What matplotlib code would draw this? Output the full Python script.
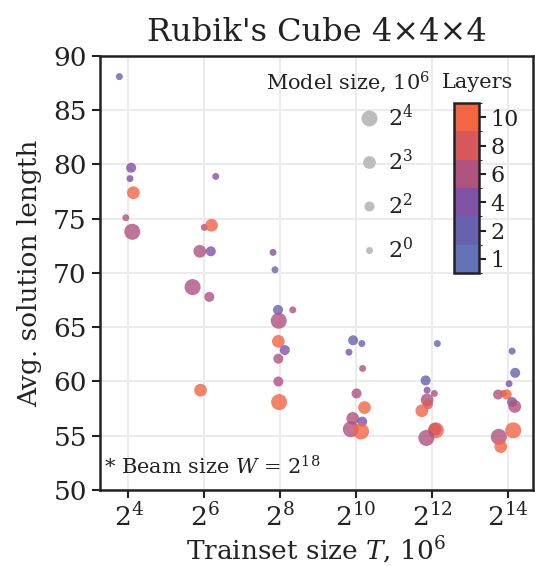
import numpy as np
import matplotlib
matplotlib.use("Agg")
import matplotlib.pyplot as plt
from matplotlib.colors import ListedColormap, BoundaryNorm
from matplotlib.cm import ScalarMappable
from matplotlib.lines import Line2D

plt.rcParams["font.family"] = "DejaVu Serif"
plt.rcParams["mathtext.fontset"] = "dejavuserif"

# ---------------------
# Data
# log2 of trainset size (with the small horizontal jitter of the original),
# average solution length, number of layers, log2 of model size
# ---------------------
train_log2 = [3.76, 4.07, 4.04, 4.13, 3.93, 4.10,
              6.30, 6.00, 6.19, 5.88, 6.17, 5.69, 6.13, 5.90,
              7.81, 7.86, 7.94, 8.33, 7.96, 7.95, 8.12, 7.95, 7.95, 7.97,
              9.92, 10.15, 9.81, 10.17, 10.01, 10.22, 9.91, 10.16, 9.86, 10.13,
              12.14, 11.83, 11.87, 12.06, 11.87, 11.89, 11.73, 12.10, 12.08, 11.85,
              14.11, 14.19, 14.03, 13.74, 13.88, 13.97, 14.11, 14.18, 14.14, 13.76, 13.81]
sol_len = [88.1, 79.7, 78.7, 77.4, 75.1, 73.8,
           78.9, 74.2, 74.4, 72.0, 72.0, 68.7, 67.8, 59.2,
           71.9, 70.3, 66.6, 66.6, 65.6, 63.7, 62.9, 62.1, 60.0, 58.1,
           63.8, 63.5, 62.7, 61.2, 58.9, 57.6, 56.6, 56.3, 55.6, 55.4,
           63.5, 60.1, 59.2, 58.9, 58.3, 57.9, 57.3, 55.5, 55.6, 54.8,
           62.8, 60.8, 59.8, 58.8, 58.9, 58.8, 58.1, 57.7, 55.5, 54.9, 54.0]
layers = [2, 4, 4, 10, 6, 6,
          4, 6, 10, 6, 4, 6, 6, 10,
          4, 2, 2, 6, 6, 10, 4, 6, 6, 10,
          2, 2, 4, 6, 6, 10, 6, 4, 6, 10,
          2, 2, 4, 6, 6, 8, 10, 10, 8, 6,
          2, 2, 4, 6, 8, 10, 4, 6, 10, 6, 10]
model_log2 = [0, 2, 0, 3, 0, 4,
              0, 0, 3, 3, 2, 4, 2, 3,
              0, 0, 2, 0, 4, 3, 2, 2, 2, 4,
              2, 0, 0, 0, 2, 3, 3, 2, 4, 4,
              0, 2, 0, 0, 3, 2, 3, 4, 3, 4,
              0, 2, 0, 2, 0, 2, 2, 3, 4, 4, 3]

layer_levels = [1, 2, 4, 6, 8, 10]
layer_colors = ["#6373b8", "#6762ad", "#7f52a6", "#b0527e", "#d6585a", "#f26644"]
legend_pows = [4, 3, 2, 0]
x_tick_pows = [4, 6, 8, 10, 12, 14]
y_ticks = [50, 55, 60, 65, 70, 75, 80, 85, 90]

# marker area (pt^2) for each model size exponent
AREA = {0: 25, 2: 52, 3: 84, 4: 133}
INK = "#222222"

# ---------------------
# Plot
# ---------------------
fig = plt.figure(figsize=(5.35, 5.66), dpi=100)
ax = fig.add_axes([100 / 535, 1 - 490 / 566, 433 / 535, 434 / 566])

cmap = ListedColormap(layer_colors)
norm = BoundaryNorm(np.arange(len(layer_levels) + 1), cmap.N)
layer_idx = [layer_levels.index(l) + 0.5 for l in layers]

ax.scatter(2.0 ** np.array(train_log2), sol_len,
           s=[AREA[m] for m in model_log2],
           c=layer_idx, cmap=cmap, norm=norm,
           alpha=0.8, linewidths=0, zorder=3)

ax.set_xscale("log", base=2)
ax.set_xlim(2 ** 3.25, 2 ** 14.66)
ax.set_ylim(50, 90)
ax.set_xticks([2.0 ** p for p in x_tick_pows])
ax.set_xticklabels([f"$2^{{{p}}}$" for p in x_tick_pows])
ax.xaxis.set_minor_locator(matplotlib.ticker.NullLocator())
ax.set_yticks(y_ticks)
ax.tick_params(labelsize=19, length=6, width=1.5, color=INK, labelcolor=INK)
ax.grid(True, color="#ebebeb", linewidth=1.5, zorder=0)
ax.set_axisbelow(True)
for sp in ax.spines.values():
    sp.set_linewidth(1.8)
    sp.set_color(INK)

ax.set_xlabel("Trainset size $T$, 10$^6$", fontsize=19, color=INK, labelpad=2)
ax.set_ylabel("Avg. solution length", fontsize=19, color=INK, labelpad=8)
ax.set_title("Rubik's Cube 4×4×4", fontsize=23, color=INK, pad=11)

ax.text(0.01, 0.035, "* Beam size $W$ = 2$^{18}$", transform=ax.transAxes,
        fontsize=15, color=INK)

# model size legend
handles = [Line2D([], [], linestyle="", marker="o", markersize=np.sqrt(AREA[p]),
                  markerfacecolor="#bdbdbd", markeredgewidth=0)
           for p in legend_pows]
fig.text(348 / 535, 1 - 82 / 566, "Model size, 10$^6$", fontsize=15,
         ha="center", va="center", color=INK)
ax.legend(handles, [f"$2^{{{p}}}$" for p in legend_pows],
          loc="upper left", bbox_to_anchor=(341 / 535, 1 - 93 / 566),
          bbox_transform=fig.transFigure, frameon=False, fontsize=16,
          labelspacing=0.85, handletextpad=0.1, borderpad=0, handlelength=1.5,
          labelcolor=INK)

# layers colorbar
fig.text(478 / 535, 1 - 82 / 566, "Layers", fontsize=15,
         ha="center", va="center", color=INK)
cax = fig.add_axes([454 / 535, 1 - 273 / 566, 25 / 535, 170 / 566])
sm = ScalarMappable(norm=norm, cmap=cmap)
cb = fig.colorbar(sm, cax=cax, ticks=np.arange(len(layer_levels)) + 0.5)
cb.ax.set_yticklabels([str(l) for l in layer_levels])
cb.ax.tick_params(labelsize=16, length=5, width=1.5, color=INK, labelcolor=INK)
cb.outline.set_linewidth(1.8)
cb.outline.set_edgecolor(INK)

fig.savefig("out.png", dpi=100)
plt.close(fig)
